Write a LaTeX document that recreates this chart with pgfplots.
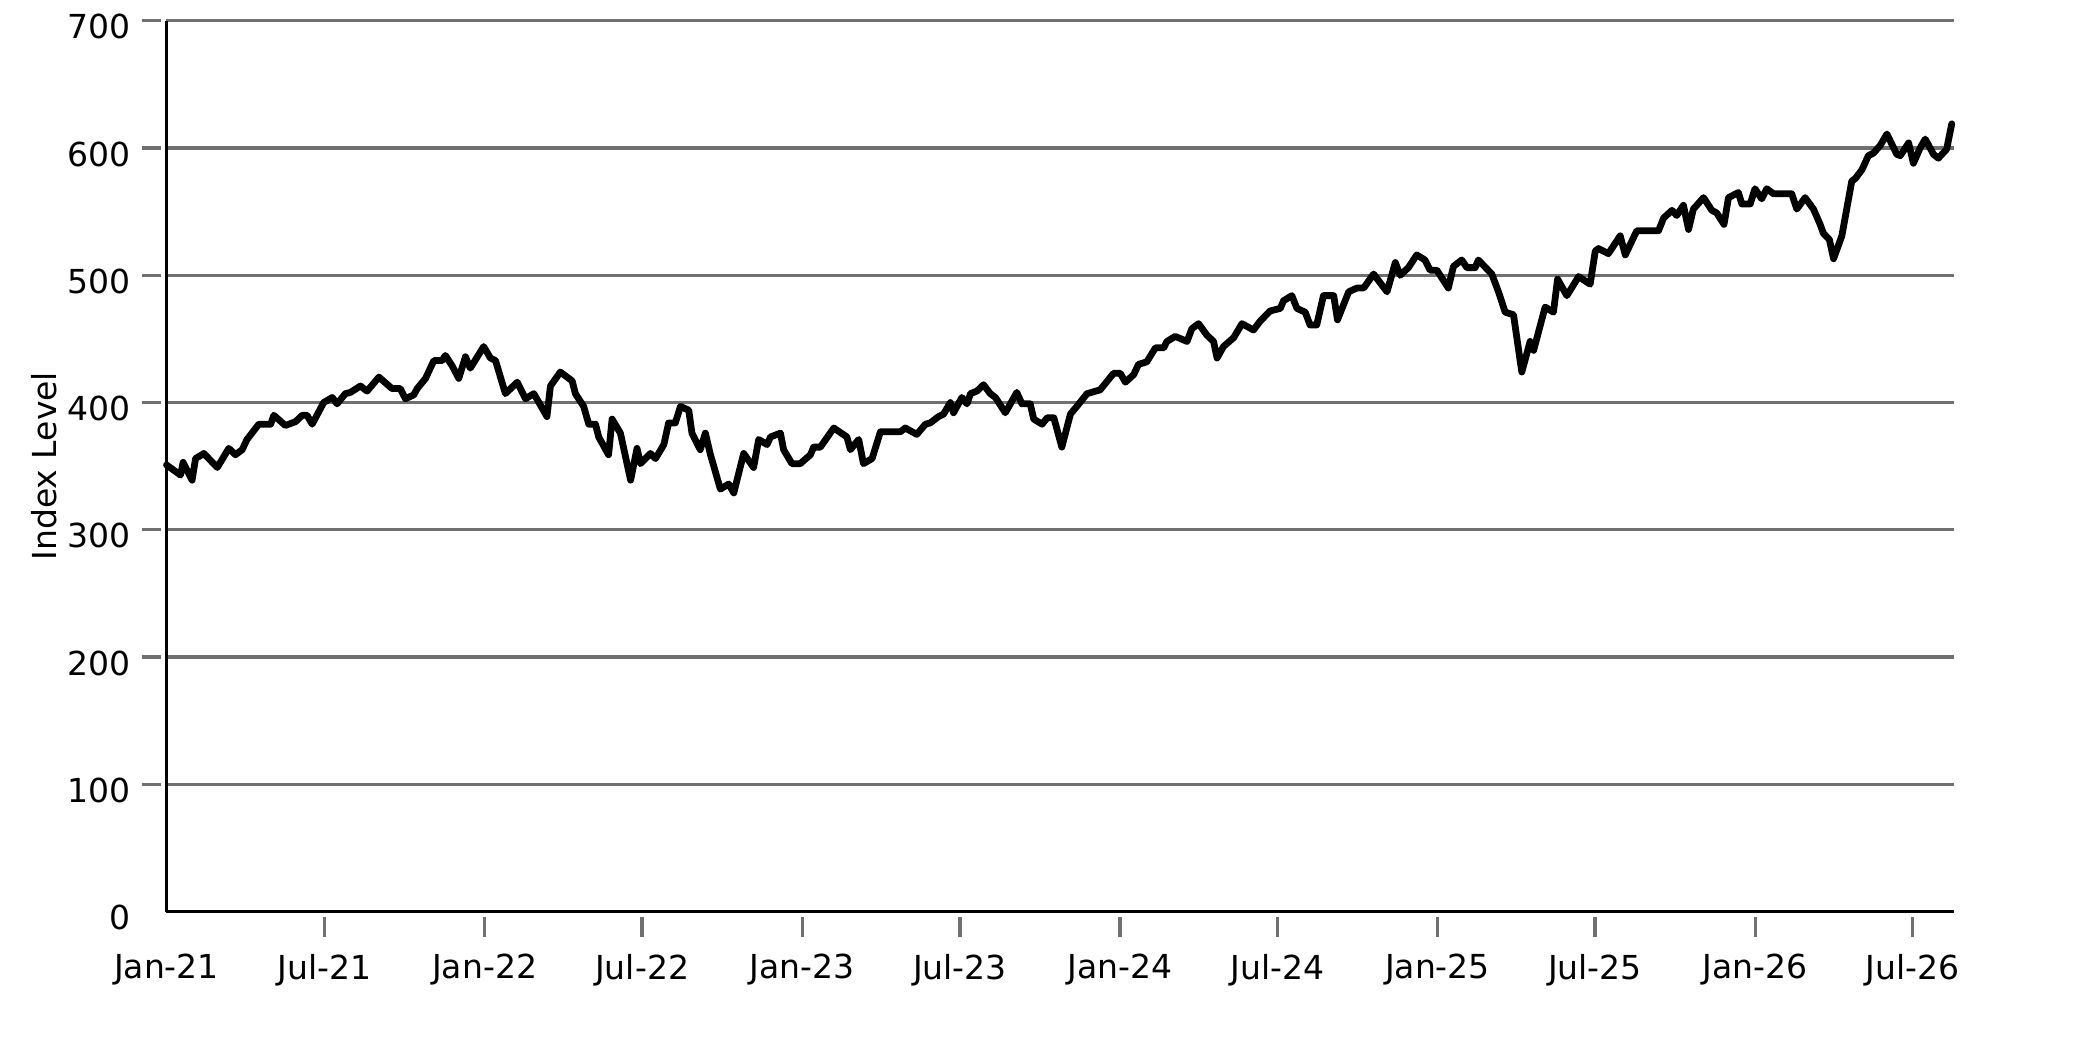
\documentclass[border=0pt]{standalone}
\usepackage{fontspec}
\setmainfont{DejaVu Sans}
\usepackage{pgfplots}
\pgfplotsset{compat=1.18}
\definecolor{gridgray}{RGB}{112,112,112}
\begin{document}
\begin{tikzpicture}
\useasboundingbox (0,0) rectangle (20.83cm,10.42cm);
\begin{axis}[
  at={(1.665cm,1.303cm)}, anchor=south west,
  width=17.875cm, height=8.91cm, scale only axis,
  xmin=2021, xmax=2026.596, ymin=0, ymax=700,
  clip=false,
  axis lines*=left,
  axis line style={black, line width=0.03cm, -},
  tick align=outside,
  major tick length=0.2cm,
  tick style={draw=gridgray, line width=0.033cm},
  xtick style={yshift=-0.05cm},
  ytick style={xshift=-0.05cm},
  ytick={100,200,300,400,500,600,700},
  extra y ticks={0},
  extra y tick style={grid=none, ytick style={draw=none}},
  xtick={2021.495,2021.996,2022.489,2022.990,2023.484,2023.985,2024.479,2024.979,2025.472,2025.974,2026.467},
  xticklabels={Jul-21,Jan-22,Jul-22,Jan-23,Jul-23,Jan-24,Jul-24,Jan-25,Jul-25,Jan-26,Jul-26},
  extra x ticks={2021},
  extra x tick labels={Jan-21},
  extra x tick style={xtick style={draw=none}},
  ymajorgrids,
  grid style={gridgray, line width=0.033cm},
  /pgf/number format/assume math mode=true,
  tick label style={font=\fontsize{9.4}{11}\selectfont, black},
  yticklabel style={xshift=-0.04cm, yshift=-0.06cm},
  xticklabel style={yshift=-0.1cm},
  ylabel={Index Level},
  ylabel style={font=\fontsize{9.4}{11}\selectfont, at={(axis description cs:-0.0685,0.5)}, anchor=center},
]
\addplot[black, line width=0.068cm, line join=round, line cap=round, mark=none] coordinates {
(2021.000,351) (2021.044,343) (2021.052,353) (2021.080,339) (2021.091,356) (2021.117,360)
(2021.159,349) (2021.195,364) (2021.216,359) (2021.237,363) (2021.252,371) (2021.289,383)
(2021.326,383) (2021.336,390) (2021.372,382) (2021.404,385) (2021.425,390) (2021.440,390)
(2021.456,383) (2021.492,400) (2021.519,404) (2021.534,399) (2021.560,407) (2021.576,408)
(2021.607,413) (2021.628,409) (2021.665,420) (2021.706,411) (2021.732,411) (2021.748,403)
(2021.774,406) (2021.785,411) (2021.811,419) (2021.837,433) (2021.863,433) (2021.873,437)
(2021.894,429) (2021.915,419) (2021.936,436) (2021.951,427) (2021.993,444) (2022.014,435)
(2022.030,433) (2022.061,407) (2022.098,416) (2022.124,403) (2022.150,407) (2022.191,389)
(2022.202,413) (2022.233,424) (2022.270,417) (2022.280,407) (2022.306,397) (2022.322,383)
(2022.343,383) (2022.353,373) (2022.384,359) (2022.395,387)
(2022.421,376) (2022.453,339) (2022.473,364) (2022.484,352) (2022.515,360) (2022.531,356)
(2022.557,367) (2022.572,384) (2022.593,384) (2022.609,397) (2022.635,394) (2022.645,376)
(2022.671,363) (2022.687,376) (2022.703,359) (2022.734,332) (2022.760,336) (2022.776,329)
(2022.807,360) (2022.838,349) (2022.854,371) (2022.880,367) (2022.891,373) (2022.922,376)
(2022.932,363) (2022.958,352) (2022.984,352) (2023.016,359) (2023.026,365) (2023.047,365)
(2023.089,380) (2023.130,373) (2023.141,363) (2023.167,371) (2023.182,352) (2023.209,356)
(2023.235,377) (2023.297,377) (2023.313,380) (2023.349,375) (2023.376,383) (2023.391,384)
(2023.417,389) (2023.433,391) (2023.454,400) (2023.464,392) (2023.490,404) (2023.506,399)
(2023.517,407) (2023.537,409) (2023.558,414) (2023.579,407) (2023.595,404) (2023.626,392)
(2023.642,399) (2023.662,408) (2023.678,399) (2023.704,399) (2023.715,387) (2023.741,383)
(2023.757,388) (2023.778,388) (2023.803,365)
(2023.830,391) (2023.850,397) (2023.882,407) (2023.923,410) (2023.965,423) (2023.986,423)
(2024.002,416) (2024.028,422) (2024.043,430) (2024.069,432) (2024.096,443) (2024.122,443)
(2024.132,448) (2024.158,452) (2024.195,448) (2024.210,458) (2024.231,462) (2024.257,453)
(2024.278,448) (2024.289,435) (2024.309,444) (2024.341,451) (2024.367,462) (2024.403,457)
(2024.424,464) (2024.455,472) (2024.487,474) (2024.497,480) (2024.523,484) (2024.539,474)
(2024.565,471) (2024.580,461) (2024.601,461) (2024.622,484) (2024.654,484) (2024.666,465)
(2024.701,487) (2024.727,490) (2024.748,490) (2024.779,501) (2024.821,487) (2024.847,510)
(2024.862,500) (2024.888,506) (2024.914,516) (2024.940,512) (2024.956,504) (2024.977,504)
(2025.013,490) (2025.029,507) (2025.055,512) (2025.071,506) (2025.097,506) (2025.107,512)
(2025.149,501) (2025.170,487) (2025.191,471) (2025.217,469)
(2025.243,424) (2025.269,448) (2025.280,441) (2025.316,475) (2025.342,471) (2025.355,497)
(2025.384,484) (2025.421,499) (2025.457,493) (2025.473,519) (2025.483,521) (2025.514,517)
(2025.551,531) (2025.567,516) (2025.603,535) (2025.671,535) (2025.687,545) (2025.713,551)
(2025.728,547) (2025.749,555) (2025.765,536) (2025.780,552) (2025.812,561) (2025.838,551)
(2025.853,549) (2025.876,540) (2025.890,561) (2025.921,565) (2025.932,556) (2025.958,556)
(2025.973,568) (2025.994,560) (2026.010,568) (2026.031,564) (2026.088,564) (2026.104,552)
(2026.130,561) (2026.156,552) (2026.177,540) (2026.187,533) (2026.206,528) (2026.219,513)
(2026.245,531) (2026.276,574) (2026.287,576) (2026.308,583) (2026.328,594) (2026.344,596)
(2026.365,602) (2026.386,611) (2026.417,595) (2026.428,594) (2026.454,604) (2026.469,588)
(2026.490,600) (2026.506,607) (2026.532,595) (2026.547,592) (2026.573,599) (2026.589,619)
};
\end{axis}
\end{tikzpicture}
\end{document}
